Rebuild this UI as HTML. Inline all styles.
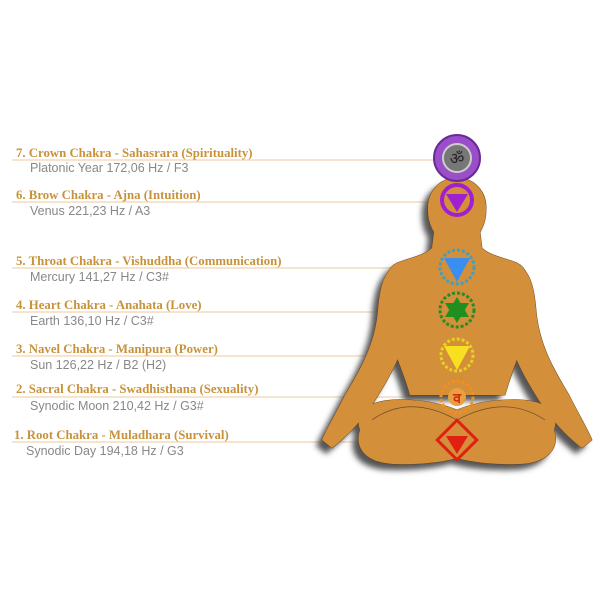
<!DOCTYPE html>
<html><head><style>
body{margin:0;background:#fff;width:600px;height:600px;overflow:hidden;position:relative}
.t{position:absolute;left:16px;font:bold 12.8px "Liberation Serif",serif;color:#c8923a;white-space:nowrap}
.s{position:absolute;left:30px;font:12.5px "Liberation Sans",sans-serif;color:#888;white-space:nowrap}
svg{position:absolute;left:0;top:0}
</style></head><body>
<svg width="600" height="600">
<defs><filter id="b"><feGaussianBlur stdDeviation="3"/></filter>
<g id="bp">
<path d="M457,178 C475,178 487,192 486,210 C486,222 482,228 480,232 L482,248 C490,256 505,258 517,263 C528,268 532,285 530,310 C527,340 515,360 505,395 L410,395 C400,360 387,340 384,310 C382,285 386,268 397,263 C409,258 424,256 432,248 L434,232 C432,228 428,222 428,210 C427,192 439,178 457,178 Z"/>
<path d="M400,263 C385,268 380,285 378,310 C375,345 360,370 345,395 C335,415 326,430 322,440 L332,448 C345,438 358,425 372,405 C385,385 400,360 408,330 Z"/>
<path d="M514,263 C529,268 534,285 536,310 C539,345 554,370 569,395 C579,415 588,430 592,440 L582,448 C569,438 556,425 542,405 C529,385 514,360 506,330 Z"/>
<path d="M360,430 C352,405 380,398 410,400 C430,401 445,405 457,410 C469,405 484,401 504,400 C534,398 562,405 554,430 C560,448 548,463 520,464 C495,465 470,462 457,458 C444,462 419,465 394,464 C366,463 354,448 360,430 Z"/>
</g></defs>
<g stroke="#e8c9a0" stroke-width="1">
<line x1="12" y1="160" x2="440" y2="160"/><line x1="12" y1="202" x2="440" y2="202"/>
<line x1="12" y1="268" x2="440" y2="268"/><line x1="12" y1="312" x2="440" y2="312"/>
<line x1="12" y1="356" x2="440" y2="356"/><line x1="12" y1="397" x2="440" y2="397"/>
<line x1="12" y1="442" x2="440" y2="442"/></g>
<use href="#bp" transform="translate(-6,6)" fill="#555" filter="url(#b)"/>
<use href="#bp" fill="#d48f3a" stroke="#5a3a1a" stroke-width="0.8"/>
<use href="#bp" fill="#d48f3a"/>
<path d="M372,420 C400,400 430,405 457,420 C485,405 515,400 545,420" fill="none" stroke="#6a4a2a" stroke-width="0.7"/>
<circle cx="457" cy="158" r="23" fill="#9a4fc8" stroke="#6a2a98" stroke-width="2"/>
<circle cx="457" cy="158" r="14" fill="#777" stroke="#ccc" stroke-width="2"/>
<text x="457" y="164" font-size="16" text-anchor="middle" fill="#222" font-family="DejaVu Sans">ॐ</text>
<circle cx="457" cy="200" r="15" fill="none" stroke="#a020d0" stroke-width="4"/>
<polygon points="446,194 468,194 457,212" fill="#a020d0"/>
<circle cx="457" cy="267" r="17" fill="none" stroke="#40a0c0" stroke-width="3" stroke-dasharray="3 2"/>
<polygon points="444,258 470,258 457,282" fill="#3a8ef0"/>
<circle cx="457" cy="310" r="17" fill="none" stroke="#2a8a2a" stroke-width="3" stroke-dasharray="3 2"/>
<polygon points="445,303 469,303 457,323" fill="#1f8f1f"/><polygon points="445,317 469,317 457,297" fill="#1f8f1f"/>
<circle cx="457" cy="355" r="16" fill="none" stroke="#e8d020" stroke-width="3" stroke-dasharray="3 2"/>
<polygon points="444,346 470,346 457,370" fill="#f8e020"/>
<circle cx="457" cy="397" r="16" fill="none" stroke="#f09020" stroke-width="3" stroke-dasharray="3 2"/>
<circle cx="457" cy="397" r="9" fill="#e8a040"/>
<text x="457" y="403" font-size="14" text-anchor="middle" fill="#d03010" font-family="DejaVu Sans" font-weight="bold">व</text>
<rect x="443" y="426" width="28" height="28" fill="none" stroke="#e02010" stroke-width="3" transform="rotate(45 457 440)"/>
<polygon points="446,436 468,436 457,454" fill="#e02010"/>
</svg>
<div class="t" style="top:146px">7. Crown Chakra - Sahasrara (Spirituality)</div>
<div class="s" style="top:161px">Platonic Year 172,06 Hz / F3</div>
<div class="t" style="top:188px">6. Brow Chakra - Ajna (Intuition)</div>
<div class="s" style="top:204px">Venus 221,23 Hz / A3</div>
<div class="t" style="top:254px">5. Throat Chakra - Vishuddha (Communication)</div>
<div class="s" style="top:270px">Mercury 141,27 Hz / C3#</div>
<div class="t" style="top:298px">4. Heart Chakra - Anahata (Love)</div>
<div class="s" style="top:314px">Earth 136,10 Hz / C3#</div>
<div class="t" style="top:342px">3. Navel Chakra - Manipura (Power)</div>
<div class="s" style="top:358px">Sun 126,22 Hz / B2 (H2)</div>
<div class="t" style="top:382px">2. Sacral Chakra - Swadhisthana (Sexuality)</div>
<div class="s" style="top:399px">Synodic Moon 210,42 Hz / G3#</div>
<div class="t" style="top:428px;left:14px">1. Root Chakra - Muladhara (Survival)</div>
<div class="s" style="top:444px;left:26px">Synodic Day 194,18 Hz / G3</div>
</body></html>
